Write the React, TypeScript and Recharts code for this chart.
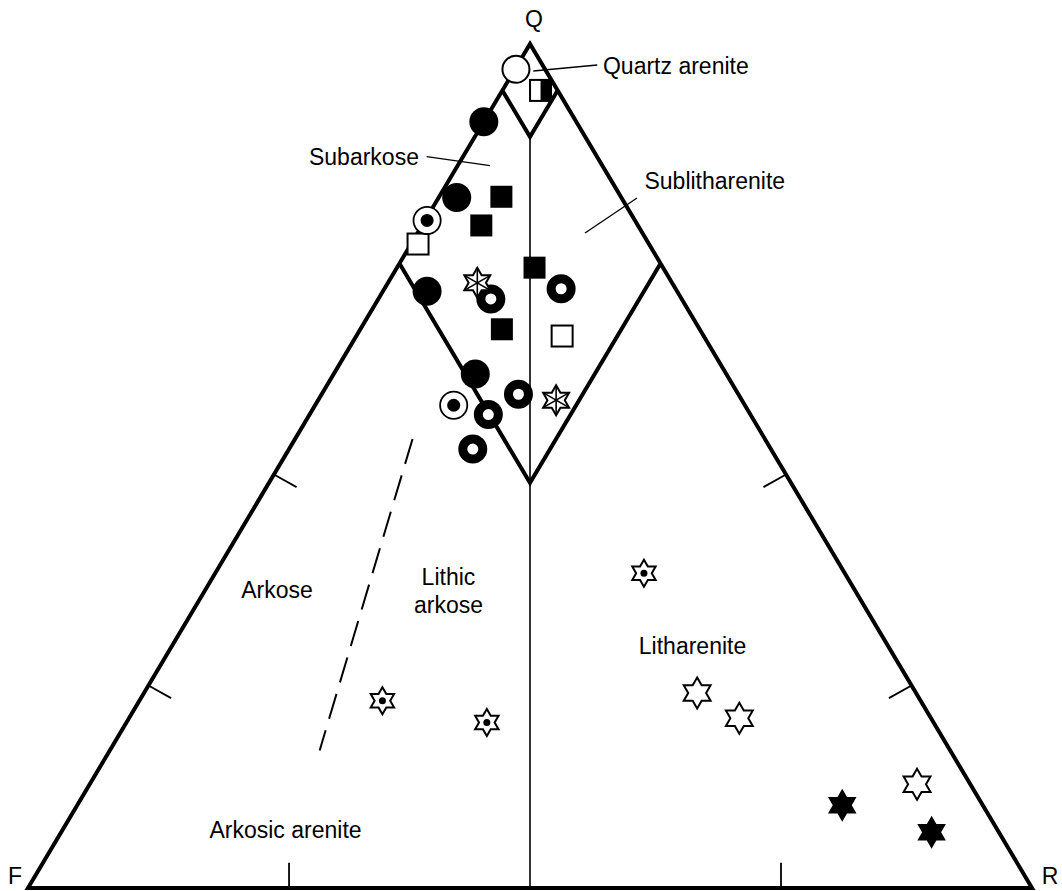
import React from "react";
import { ScatterChart, Scatter, XAxis, YAxis } from "recharts";

// ---------- data (ternary percentages Q / F / R) ----------
const openCircles = [{ q: 97.0, f: 2.9, r: 0.1 }];
const halfSquares = [{ q: 94.5, f: 1.7, r: 3.8 }];
const filledCircles = [
  { q: 90.8, f: 9.2, r: 0 },
  { q: 81.8, f: 16.4, r: 1.8 },
  { q: 70.7, f: 24.9, r: 4.4 },
  { q: 60.9, f: 25.0, r: 14.1 },
];
const filledSquares = [
  { q: 81.9, f: 11.9, r: 6.2 },
  { q: 78.5, f: 15.6, r: 5.9 },
  { q: 73.5, f: 12.8, r: 13.7 },
  { q: 66.2, f: 19.7, r: 14.1 },
];
const openSquares = [
  { q: 76.3, f: 23.0, r: 0.7 },
  { q: 65.4, f: 14.1, r: 20.5 },
];
const dottedCircles = [
  { q: 79.1, f: 20.7, r: 0.2 },
  { q: 57.2, f: 29.0, r: 13.8 },
];
const rings = [
  { q: 69.8, f: 19.0, r: 11.2 },
  { q: 71.0, f: 11.4, r: 17.6 },
  { q: 58.5, f: 21.9, r: 19.6 },
  { q: 56.1, f: 26.1, r: 17.8 },
  { q: 52.0, f: 29.7, r: 18.3 },
];
const spokedStars = [
  { q: 71.7, f: 19.4, r: 8.9 },
  { q: 57.8, f: 18.5, r: 23.7 },
];
const dottedStars = [
  { q: 37.3, f: 20.0, r: 42.7 },
  { q: 22.2, f: 53.6, r: 24.2 },
  { q: 19.6, f: 44.5, r: 35.9 },
];
const openStars = [
  { q: 23.1, f: 21.8, r: 55.1 },
  { q: 20.1, f: 19.1, r: 60.8 },
  { q: 12.3, f: 5.3, r: 82.4 },
];
const filledStars = [
  { q: 9.8, f: 14.0, r: 76.2 },
  { q: 6.6, f: 6.7, r: 86.7 },
];

// field boundaries (ternary)
const outline = [
  { q: 0, f: 50, r: 50 },
  { q: 0, f: 0, r: 100 },
  { q: 100, f: 0, r: 0 },
  { q: 0, f: 100, r: 0 },
  { q: 0, f: 50, r: 50 },
];
const quartzField = [
  { q: 94.5, f: 5.5, r: 0 },
  { q: 89, f: 5.5, r: 5.5 },
  { q: 94.5, f: 0, r: 5.5 },
];
const subField = [
  { q: 74, f: 26, r: 0 },
  { q: 48, f: 26, r: 26 },
  { q: 74, f: 0, r: 26 },
];
const centreLine = [
  { q: 89, f: 5.5, r: 5.5 },
  { q: 0, f: 50, r: 50 },
];
const arkoseDivide = [
  { q: 53.2, f: 35.1, r: 11.7 },
  { q: 16.3, f: 62.8, r: 20.9 },
];
const leftTicks = [24, 49];
const rightTicks = [24, 49];
const baseTicks = [26, 75];
const TICK = 3;

// annotations (diagram units: x across base, y up the height)
const labels = [
  { text: "Q", x: 0.504, y: 1.03 },
  { text: "F", x: -0.013, y: 0.0142 },
  { text: "R", x: 1.018, y: 0.0142 },
  { text: "Quartz arenite", x: 0.5727, y: 0.9743 },
  { text: "Subarkose", x: 0.3894, y: 0.8665 },
  { text: "Sublitharenite", x: 0.614, y: 0.8377 },
  { text: "Arkose", x: 0.248, y: 0.3525 },
  { text: "Lithic", x: 0.4188, y: 0.3688 },
  { text: "arkose", x: 0.4188, y: 0.3353 },
  { text: "Litharenite", x: 0.6619, y: 0.2867 },
  { text: "Arkosic arenite", x: 0.2565, y: 0.0687 },
];
const labelAnchor: Record<string, string> = {
  "Quartz arenite": "start",
  Subarkose: "end",
  Sublitharenite: "start",
};
const leaders = [
  [{ x: 0.5033, y: 0.968 }, { x: 0.567, y: 0.9751 }],
  [{ x: 0.3971, y: 0.8665 }, { x: 0.4602, y: 0.8558 }],
  [{ x: 0.5548, y: 0.776 }, { x: 0.6066, y: 0.8175 }],
];

// ---------- helpers ----------
type T = { q: number; f: number; r: number };
const toXY = (p: T) => {
  const s = p.q + p.f + p.r;
  return { x: (p.r + p.q / 2) / s, y: p.q / s };
};
const conv = (arr: T[]) => arr.map(toXY);

const W = 1062;
const H = 891;
const X0 = -28 / 1004;
const X1 = X0 + W / 1004;
const Y1 = 1 + 44 / 844;
const Y0 = Y1 - H / 844;

const FONT = "'Liberation Sans', Arial, Helvetica, sans-serif";

const hexPath = (cx: number, cy: number, ro: number) => {
  const ri = ro / Math.sqrt(3);
  let d = "";
  for (let k = 0; k < 12; k++) {
    const a = ((-90 + 30 * k) * Math.PI) / 180;
    const rr = k % 2 === 0 ? ro : ri;
    d += (k ? "L" : "M") + (cx + rr * Math.cos(a)).toFixed(2) + "," + (cy + rr * Math.sin(a)).toFixed(2);
  }
  return d + "Z";
};

const None = () => <g />;

const FilledCircle = ({ cx, cy }: any) => <circle cx={cx} cy={cy} r={14.5} fill="#000" />;
const OpenCircle = ({ cx, cy }: any) => (
  <circle cx={cx} cy={cy} r={13.5} fill="#fff" stroke="#000" strokeWidth={2} />
);
const Ring = ({ cx, cy }: any) => (
  <circle cx={cx} cy={cy} r={10} fill="#fff" stroke="#000" strokeWidth={9} />
);
const DottedCircle = ({ cx, cy }: any) => (
  <g>
    <circle cx={cx} cy={cy} r={13.6} fill="#fff" stroke="#000" strokeWidth={1.8} />
    <circle cx={cx} cy={cy} r={6.5} fill="#000" />
  </g>
);
const FilledSquare = ({ cx, cy }: any) => <rect x={cx - 11} y={cy - 11} width={22} height={22} fill="#000" />;
const OpenSquare = ({ cx, cy }: any) => (
  <rect x={cx - 10.5} y={cy - 10.5} width={21} height={21} fill="#fff" stroke="#000" strokeWidth={2} />
);
const HalfSquare = ({ cx, cy }: any) => (
  <g>
    <rect x={cx - 10.5} y={cy - 10.5} width={21} height={21} fill="#fff" stroke="#000" strokeWidth={2} />
    <rect x={cx} y={cy - 10.5} width={10.5} height={21} fill="#000" />
  </g>
);
const OpenStar = ({ cx, cy }: any) => (
  <path d={hexPath(cx, cy, 15.5)} fill="#fff" stroke="#000" strokeWidth={2} strokeLinejoin="miter" />
);
const FilledStar = ({ cx, cy }: any) => <path d={hexPath(cx, cy, 16.5)} fill="#000" />;
const DottedStar = ({ cx, cy }: any) => (
  <g>
    <path d={hexPath(cx, cy, 13.5)} fill="#fff" stroke="#000" strokeWidth={2} />
    <circle cx={cx} cy={cy} r={3.5} fill="#000" />
  </g>
);
const SpokedStar = ({ cx, cy }: any) => {
  const ro = 15;
  const spokes = [0, 1, 2].map((k) => {
    const a = ((-90 + 60 * k) * Math.PI) / 180;
    return (
      <line
        key={k}
        x1={cx + ro * Math.cos(a)}
        y1={cy + ro * Math.sin(a)}
        x2={cx - ro * Math.cos(a)}
        y2={cy - ro * Math.sin(a)}
        stroke="#000"
        strokeWidth={1.6}
      />
    );
  });
  return (
    <g>
      <path d={hexPath(cx, cy, ro)} fill="#fff" stroke="#000" strokeWidth={2} />
      {spokes}
    </g>
  );
};
const Label = ({ cx, cy, payload }: any) => (
  <text
    x={cx}
    y={cy}
    textAnchor={labelAnchor[payload.text] || "middle"}
    dominantBaseline="central"
    fontFamily={FONT}
    fontSize={23}
    fill="#000"
  >
    {payload.text}
  </text>
);

const tickSegs = [
  ...leftTicks.map((t) => [
    { q: t, f: 100 - t, r: 0 },
    { q: t - TICK / 2, f: 100 - t - TICK / 2, r: TICK },
  ]),
  ...rightTicks.map((t) => [
    { q: t, f: 0, r: 100 - t },
    { q: t - TICK / 2, f: TICK, r: 100 - t - TICK / 2 },
  ]),
  ...baseTicks.map((t) => [
    { q: 0, f: 100 - t, r: t },
    { q: TICK, f: 100 - t - TICK / 2, r: t - TICK / 2 },
  ]),
];

const lineSeries = (data: any[], width: number, key: string, dash?: string) => (
  <Scatter
    key={key}
    data={data}
    fill="#000"
    line={{ stroke: "#000", strokeWidth: width, strokeDasharray: dash, strokeLinejoin: "miter" }}
    shape={None}
    isAnimationActive={false}
  />
);

export default function App() {
  return (
    <div style={{ position: "absolute", left: 0, top: 0, width: W, height: H, background: "#fff" }}>
      <ScatterChart width={W} height={H} margin={{ top: 0, right: 0, bottom: 0, left: 0 }}>
        <XAxis type="number" dataKey="x" domain={[X0, X1]} allowDataOverflow hide />
        <YAxis type="number" dataKey="y" domain={[Y0, Y1]} allowDataOverflow hide />
        {lineSeries(conv(centreLine), 1.6, "centre")}
        {lineSeries(conv(arkoseDivide), 2, "divide", "26 12")}
        {tickSegs.map((s, i) => lineSeries(conv(s), 1.8, "tick" + i))}
        {leaders.map((s, i) => lineSeries(s, 1.3, "leader" + i))}
        {lineSeries(conv(quartzField), 4, "qf")}
        {lineSeries(conv(subField), 4, "sf")}
        {lineSeries(conv(outline), 4, "outline")}
        <Scatter data={conv(openCircles)} shape={OpenCircle} isAnimationActive={false} />
        <Scatter data={conv(halfSquares)} shape={HalfSquare} isAnimationActive={false} />
        <Scatter data={conv(filledCircles)} shape={FilledCircle} isAnimationActive={false} />
        <Scatter data={conv(filledSquares)} shape={FilledSquare} isAnimationActive={false} />
        <Scatter data={conv(openSquares)} shape={OpenSquare} isAnimationActive={false} />
        <Scatter data={conv(dottedCircles)} shape={DottedCircle} isAnimationActive={false} />
        <Scatter data={conv(rings)} shape={Ring} isAnimationActive={false} />
        <Scatter data={conv(spokedStars)} shape={SpokedStar} isAnimationActive={false} />
        <Scatter data={conv(dottedStars)} shape={DottedStar} isAnimationActive={false} />
        <Scatter data={conv(openStars)} shape={OpenStar} isAnimationActive={false} />
        <Scatter data={conv(filledStars)} shape={FilledStar} isAnimationActive={false} />
        <Scatter data={labels} shape={Label} isAnimationActive={false} />
      </ScatterChart>
    </div>
  );
}
